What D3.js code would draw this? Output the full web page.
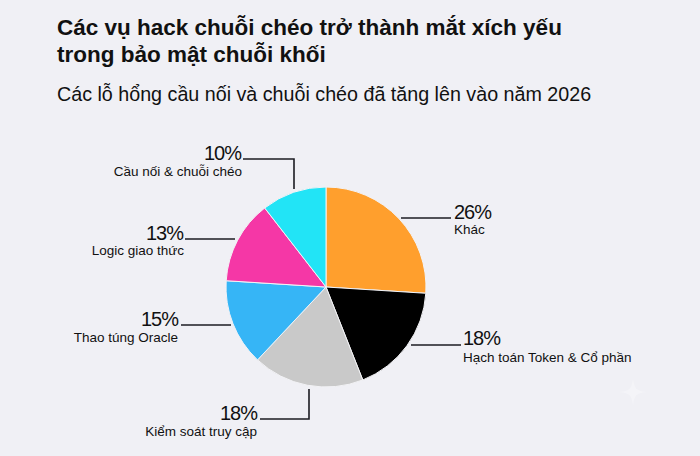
<!DOCTYPE html>
<html><head><meta charset="utf-8">
<script src="https://cdn.jsdelivr.net/npm/d3@7"></script>
<style>html,body{margin:0;padding:0;background:#f0f0f5}svg{display:block}text{font-family:"Liberation Sans",Arial,sans-serif;fill:#111}</style>
</head><body><svg id="c" width="700" height="456"></svg>
<script>
const titleLines = ["Các vụ hack chuỗi chéo trở thành mắt xích yếu", "trong bảo mật chuỗi khối"];
const subtitle = "Các lỗ hổng cầu nối và chuỗi chéo đã tăng lên vào năm 2026";
const categories = ["Khác", "Hạch toán Token & Cổ phần", "Kiểm soát truy cập", "Thao túng Oracle", "Logic giao thức", "Cầu nối & chuỗi chéo"];
const percentLabels = ["26%", "18%", "18%", "15%", "13%", "10%"];
// Slice sizes as drawn in the picture (they differ slightly from the printed labels)
const sliceShares = [26, 18, 18, 14, 13.5, 10.5];
const colors = ["#ff9f2d", "#000000", "#c9c9c9", "#36b5f6", "#f537a6", "#22e4f6"];

const svg = d3.select("#c");
const cx = 326, cy = 287, R = 100;

svg.append("path").attr("transform","translate(633,392)")
  .attr("d","M0,-13 C1.5,-3 3,-1.5 13,0 C3,1.5 1.5,3 0,13 C-1.5,3 -3,1.5 -13,0 C-3,-1.5 -1.5,-3 0,-13Z")
  .attr("fill","#f4f4f8");

svg.selectAll("text.t").data(titleLines).join("text").attr("class","t")
  .attr("x",57).attr("y",(d,i)=>35+i*27).attr("font-size",22.5).attr("font-weight",700).text(d=>d);
svg.append("text").attr("x",57).attr("y",101).attr("font-size",19.7).text(subtitle);

const pie = d3.pie().sort(null).value(d=>d);
const arc = d3.arc().innerRadius(0).outerRadius(R);
const g = svg.append("g").attr("transform",`translate(${cx},${cy})`);
g.selectAll("path").data(pie(sliceShares)).join("path")
  .attr("d",arc).attr("fill",(d,i)=>colors[i])
  .attr("stroke","#f3f3f6").attr("stroke-width",1);

// Annotation layout, in the same order as categories
const layout = [
  {pts:[[401,218],[451,218]], x:454, y:219, lx:454, ly:234, anchor:"start"},
  {pts:[[411,345],[461,345]], x:463, y:345, lx:463, ly:362, anchor:"start"},
  {pts:[[260,419],[309,419],[309,389]], x:257, y:420, lx:257, ly:436, anchor:"end"},
  {pts:[[181,325],[231,325]], x:178, y:326, lx:178, ly:342, anchor:"end"},
  {pts:[[185,239],[235,239]], x:183, y:240, lx:184, ly:255, anchor:"end"},
  {pts:[[243,159],[294,159],[294,189]], x:241, y:160, lx:242, ly:176, anchor:"end"}
];
const line = d3.line();
categories.forEach((c,i)=>{
  const a = layout[i];
  svg.append("path").attr("d",line(a.pts)).attr("fill","none").attr("stroke","#1c1c22").attr("stroke-width",1.6);
  svg.append("text").attr("x",a.x).attr("y",a.y).attr("text-anchor",a.anchor)
    .attr("font-size",20).attr("letter-spacing",-1).text(percentLabels[i]);
  svg.append("text").attr("x",a.lx).attr("y",a.ly).attr("text-anchor",a.anchor)
    .attr("font-size",13.5).text(c);
});
</script></body></html>
